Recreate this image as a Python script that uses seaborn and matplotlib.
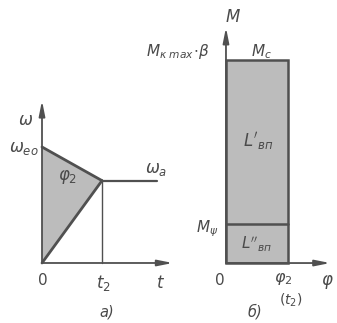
import numpy as np
import pandas as pd
import seaborn as sns
import matplotlib.pyplot as plt

# -----------------------------
# Data (relative units)
# -----------------------------
# panel a: speed vs time
t_pts = [0.0, 1.0]            # 0 and t2
w_start = 1.0                 # omega_eo
w_end = 0.71                  # omega_a at t2
t_tail = 1.92                 # omega_a line runs on to here
t_axis_end = 2.18
w_axis_end = 1.40

# panel b: moment vs angle
phi2 = 1.0
M_c = 1.0
M_psi = 0.19
phi_axis_end = 1.68
M_axis_end = 1.16

line_c = "#505050"
fill_c = "#bcbcbc"
txt_c = "#4a4a4a"

sns.set_style("white")
plt.rcParams['font.family'] = ['DejaVu Sans']
plt.rcParams['mathtext.fontset'] = 'dejavusans'

fig = plt.figure(figsize=(3.37, 3.23), dpi=100)
W, H = 337, 323

def px_axes(x0, x1, y0, y1):
    return fig.add_axes([x0 / W, (H - y1) / H, (x1 - x0) / W, (y1 - y0) / H])

def arrow(ax, x0, y0, x1, y1):
    ax.annotate("", xy=(x1, y1), xytext=(x0, y0),
                arrowprops=dict(arrowstyle="-|>,head_length=0.9,head_width=0.18",
                                color=line_c, lw=1.3, shrinkA=0, shrinkB=0))

# -----------------------------
# Panel a
# -----------------------------
ax = px_axes(30, 180, 95, 300)
ax.set_xlim(-0.2, 2.3)
ax.set_ylim(-0.319, 1.448)
ax.axis("off")

tri = pd.DataFrame({"t": [0, 0, t_pts[1]], "w": [0, w_start, w_end]})
ax.fill(tri["t"], tri["w"], color=fill_c, lw=0)
sns.lineplot(x=t_pts, y=[w_start, w_end], ax=ax, color=line_c, lw=2.0)
sns.lineplot(x=t_pts, y=[0, w_end], ax=ax, color=line_c, lw=2.0)
sns.lineplot(x=[t_pts[1], t_tail], y=[w_end, w_end], ax=ax, color=line_c, lw=1.6)
ax.plot([t_pts[1], t_pts[1]], [0, w_end], color=line_c, lw=1.0)
arrow(ax, 0, 0, t_axis_end, 0)
arrow(ax, 0, 0, 0, w_axis_end)

ax.text(-0.28, 1.23, r"$\omega$", fontsize=12, color=txt_c, ha="center", va="center")
ax.text(-0.3, 0.99, r"$\omega_{eo}$", fontsize=12, color=txt_c, ha="center", va="center")
ax.text(0.42, 0.74, r"$\varphi_2$", fontsize=12, color=txt_c, ha="center", va="center")
ax.text(1.9, 0.81, r"$\omega_a$", fontsize=12, color=txt_c, ha="center", va="center")
ax.text(0.0, -0.15, r"$0$", fontsize=11, color=txt_c, ha="center", va="center")
ax.text(1.02, -0.17, r"$t_2$", fontsize=12, color=txt_c, ha="center", va="center")
ax.text(1.98, -0.17, r"$t$", fontsize=12, color=txt_c, ha="center", va="center")
ax.text(1.08, -0.42, "а)", fontsize=10.5, color=txt_c, ha="center", va="center",
        style="italic")

# -----------------------------
# Panel b
# -----------------------------
bx = px_axes(190, 337, 10, 300)
bx.set_xlim(-0.58, 1.79)
bx.set_ylim(-0.182, 1.246)
bx.axis("off")

bx.bar([phi2 / 2], [M_c], width=phi2, color=fill_c, edgecolor=line_c, lw=1.8)
sns.lineplot(x=[0, phi2], y=[M_psi, M_psi], ax=bx, color=line_c, lw=1.8)
arrow(bx, 0, 0, phi_axis_end, 0)
arrow(bx, 0, 0, 0, M_axis_end)

bx.text(0.12, 1.21, r"$M$", fontsize=12, color=txt_c, ha="center", va="center")
bx.text(-0.78, 1.04, r"$M_{\kappa\ max}\!\cdot\!\beta$", fontsize=11, color=txt_c,
        ha="center", va="center")
bx.text(0.57, 1.04, r"$M_c$", fontsize=11, color=txt_c, ha="center", va="center")
bx.text(0.52, 0.60, r"$L'_{вп}$", fontsize=12, color=txt_c, ha="center", va="center")
bx.text(-0.3, 0.17, r"$M_\psi$", fontsize=11, color=txt_c, ha="center", va="center")
bx.text(0.5, 0.09, r"$L''_{вп}$", fontsize=11, color=txt_c, ha="center", va="center")
bx.text(-0.11, -0.085, r"$0$", fontsize=11, color=txt_c, ha="center", va="center")
bx.text(0.92, -0.08, r"$\varphi_2$", fontsize=11.5, color=txt_c, ha="center", va="center")
bx.text(1.05, -0.185, r"$(t_2)$", fontsize=10, color=txt_c, ha="center", va="center")
bx.text(1.63, -0.095, r"$\varphi$", fontsize=12, color=txt_c, ha="center", va="center")
bx.text(0.47, -0.24, "б)", fontsize=10.5, color=txt_c, ha="center", va="center",
        style="italic")

fig.savefig("out.png", dpi=100)
